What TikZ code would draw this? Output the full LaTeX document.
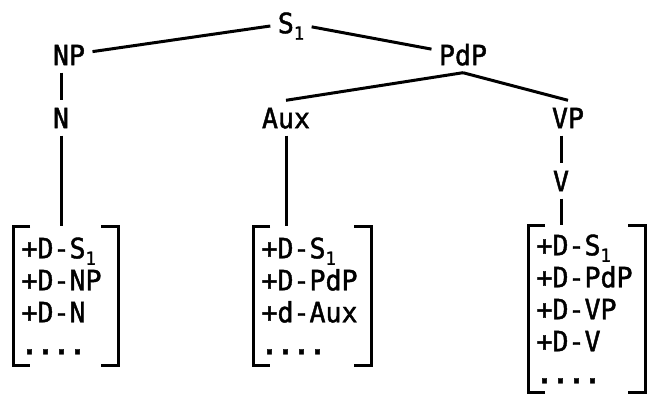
\documentclass[tikz,border=0pt]{standalone}
\usepackage{fontspec}
\usepackage{tikz}
\usetikzlibrary{positioning}
\newfontfamily\treefont[FakeBold=1.5, FakeStretch=0.95]{DejaVu Sans Mono}
\newcommand{\lowsub}[1]{\raisebox{-6.5pt}{\fontsize{18}{18}\selectfont #1}}

\begin{document}
\begin{tikzpicture}[x=1pt, y=-1pt, line width=3pt, font=\treefont\fontsize{28}{32}\selectfont]

\tikzstyle{cat}=[
    inner sep=6pt,
    text height=20.4pt,
    text depth=0pt
]
\tikzstyle{feat}=[
    anchor=north west,
    align=left,
    inner xsep=7pt,
    inner ysep=10pt
]

\useasboundingbox (0,0) rectangle (650,394);

\node[cat] (S_1) at (291,23) {S\lowsub{1}};
\node[cat] (NP) at (69,55) {NP};
\node[cat] (PdP) at (463,55) {PdP};
\node[cat] (N) at (61,118) {N};
\node[cat] (Aux) at (286,118) {Aux};
\node[cat] (VP) at (568,118) {VP};
\node[cat] (V) at (561,181) {V};

\node[feat, text width=88pt] (N_f) at (13,226) {+D-S\lowsub{1}\\+D-NP\\+D-N\\{\bfseries ....}};
\node[feat, text width=101pt] (Aux_f) at (253,226) {+D-S\lowsub{1}\\+D-PdP\\+d-Aux\\{\bfseries ....}};
\node[feat, text width=100pt, inner ysep=8pt] (V_f) at (528,225) {+D-S\lowsub{1}\\+D-PdP\\+D-VP\\+D-V\\{\bfseries ....}};

\path
(NP) edge (S_1)
(S_1) edge (PdP)
(PdP.south) edge (Aux.north)
(PdP.south) edge (VP.north)
(NP.south -| N.north) edge (N.north)
(VP.south -| V.north) edge (V.north)
(N.south) edge (N.south |- N_f.north)
(Aux.south) edge (Aux.south |- Aux_f.north)
(V.south) edge (V.south |- V_f.north);

% brackets round the feature lists
\draw ([xshift=17pt]N_f.north west) -- (N_f.north west) -- (N_f.south west) -- ([xshift=17pt]N_f.south west);
\draw ([xshift=-17pt]N_f.north east) -- (N_f.north east) -- (N_f.south east) -- ([xshift=-17pt]N_f.south east);
\draw ([xshift=17pt]Aux_f.north west) -- (Aux_f.north west) -- (Aux_f.south west) -- ([xshift=17pt]Aux_f.south west);
\draw ([xshift=-17pt]Aux_f.north east) -- (Aux_f.north east) -- (Aux_f.south east) -- ([xshift=-17pt]Aux_f.south east);
\draw ([xshift=17pt]V_f.north west) -- (V_f.north west) -- (V_f.south west) -- ([xshift=17pt]V_f.south west);
\draw ([xshift=-17pt]V_f.north east) -- (V_f.north east) -- (V_f.south east) -- ([xshift=-17pt]V_f.south east);

\end{tikzpicture}
\end{document}
